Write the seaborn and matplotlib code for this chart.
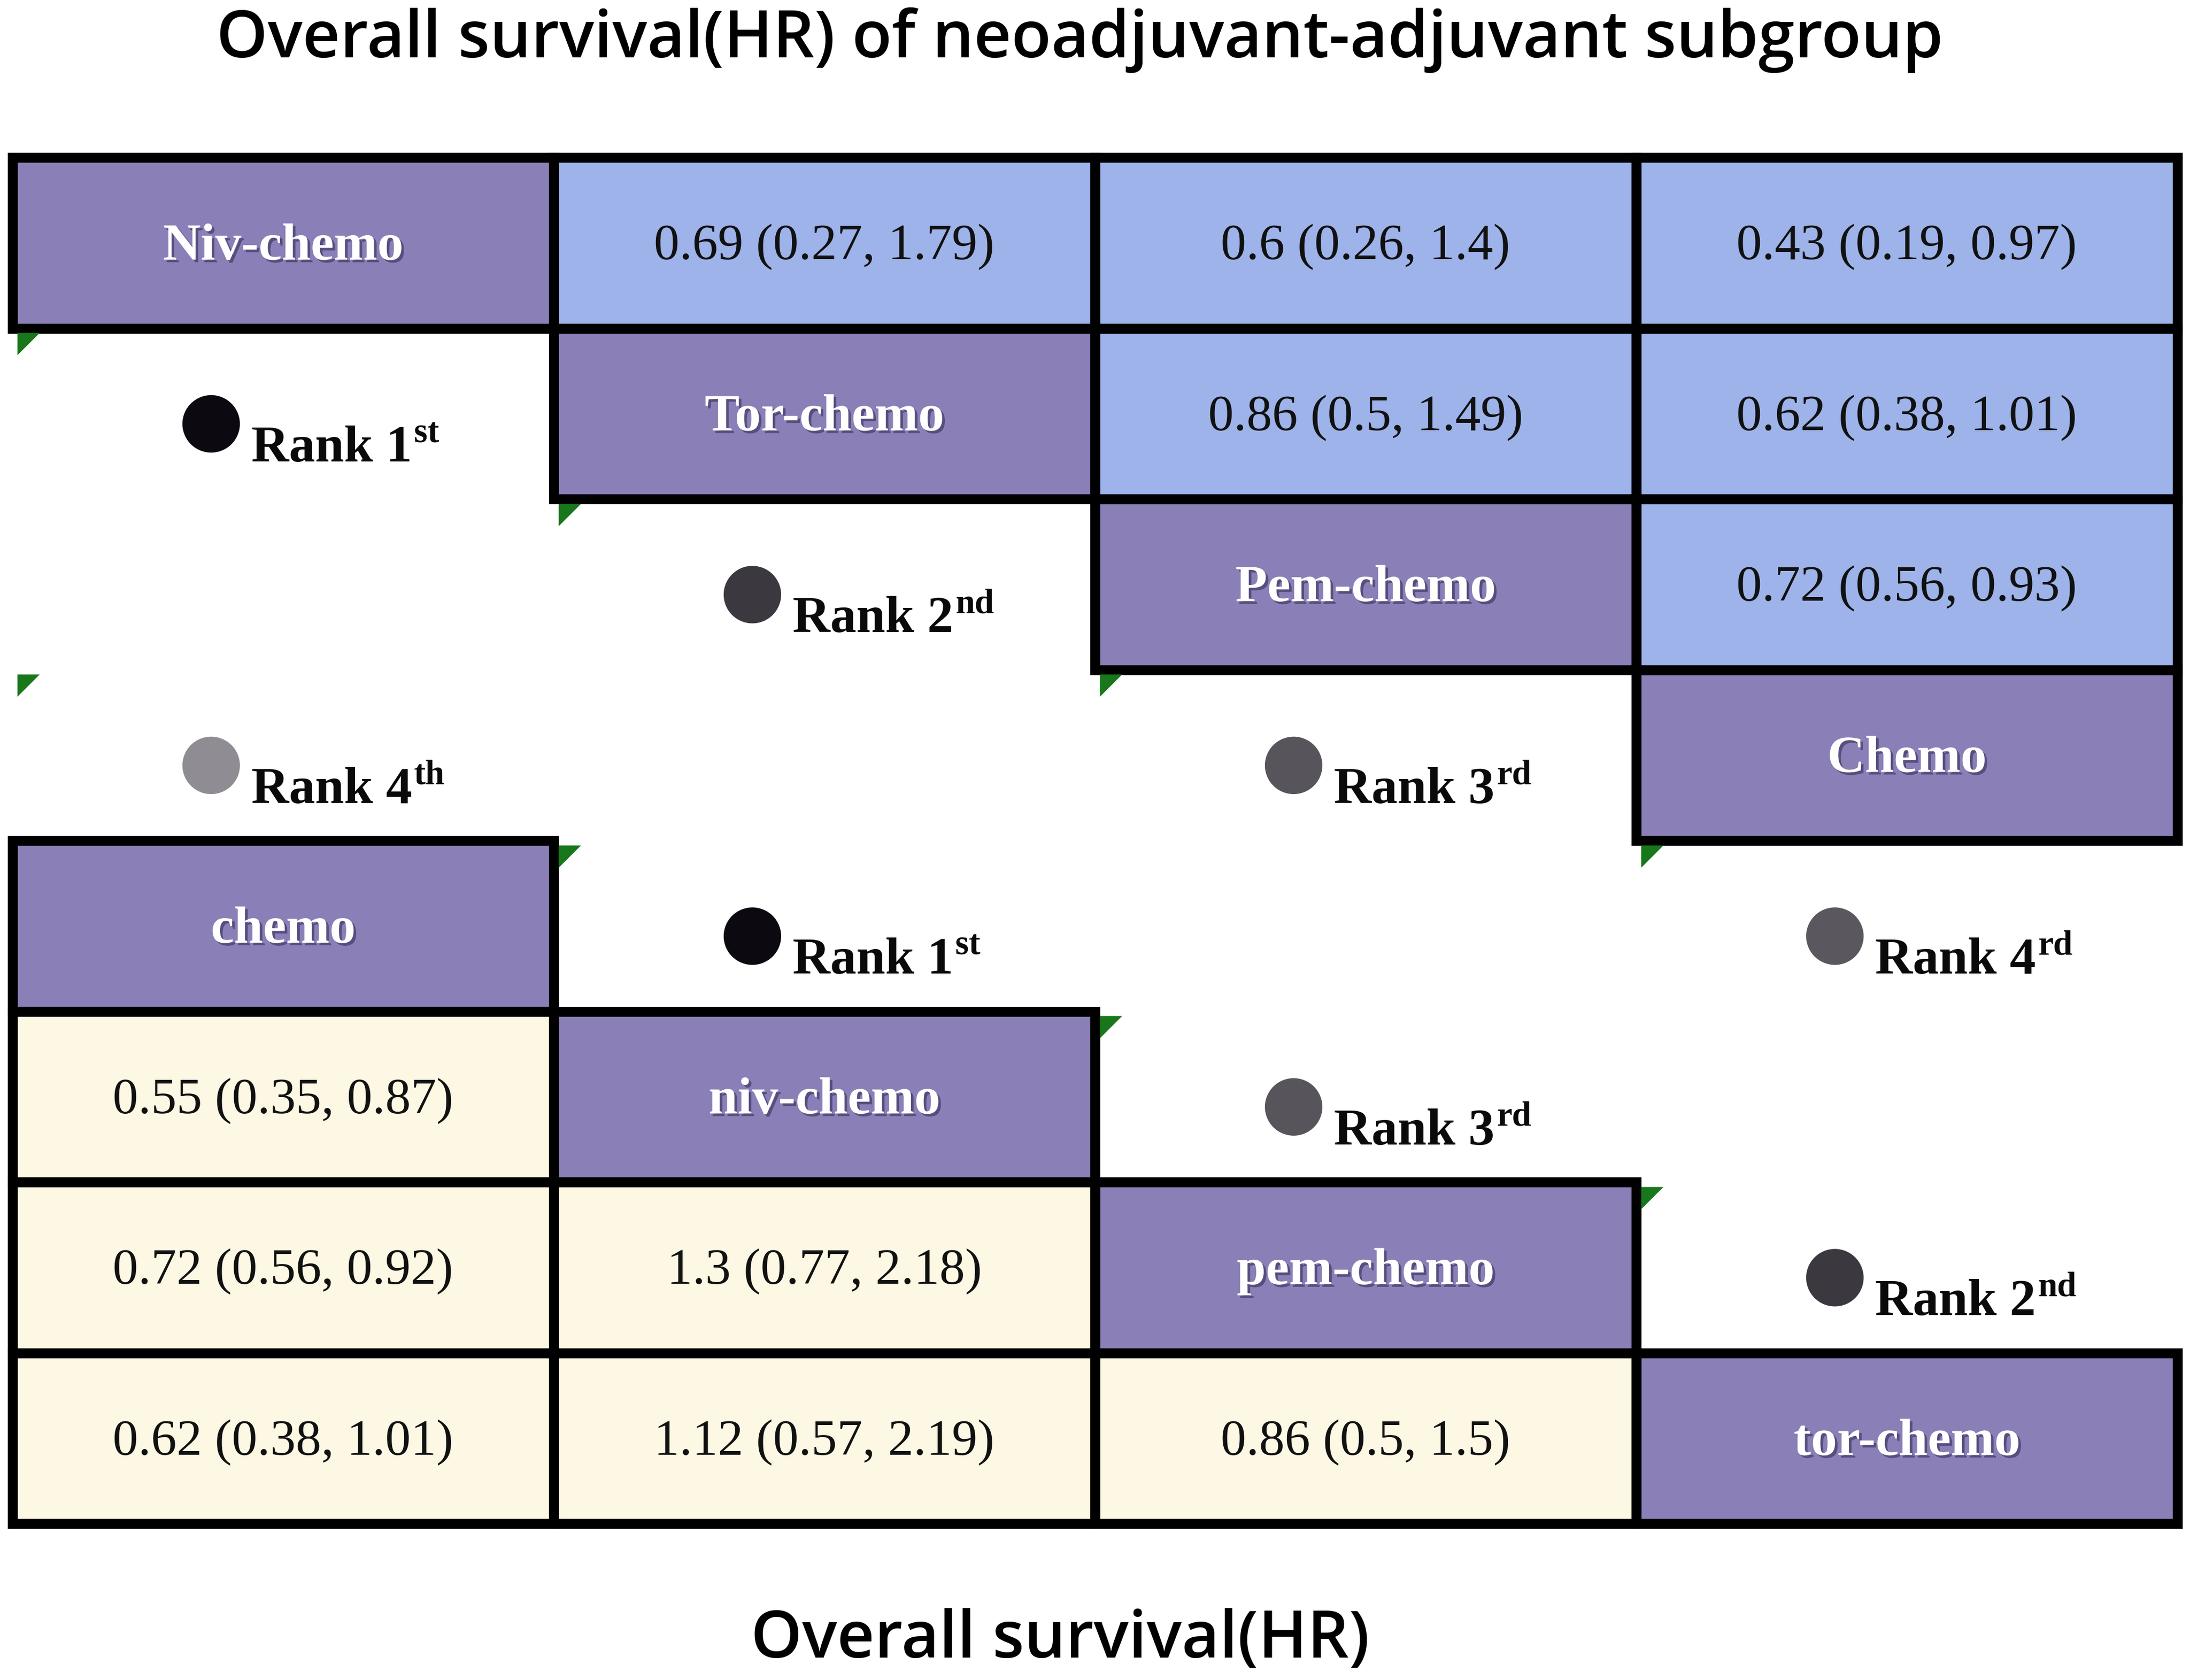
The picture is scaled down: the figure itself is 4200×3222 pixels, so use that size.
import numpy as np
import matplotlib
matplotlib.use("Agg")
import matplotlib.pyplot as plt
import matplotlib.patheffects as pe
from matplotlib.colors import ListedColormap
from matplotlib.patches import Rectangle
from matplotlib.path import Path
import seaborn as sns

# ---------------- data ----------------
title = "Overall survival(HR) of neoadjuvant-adjuvant subgroup"
xlabel = "Overall survival(HR)"

upper_treatments = ["Niv-chemo", "Tor-chemo", "Pem-chemo", "Chemo"]
lower_treatments = ["chemo", "niv-chemo", "pem-chemo", "tor-chemo"]

# upper triangle (row i, columns i+1..3)
upper_hr = [
    ["0.69 (0.27, 1.79)", "0.6 (0.26, 1.4)", "0.43 (0.19, 0.97)"],
    ["0.86 (0.5, 1.49)", "0.62 (0.38, 1.01)"],
    ["0.72 (0.56, 0.93)"],
]
# lower triangle (row i, columns 0..i-1)
lower_hr = [
    ["0.55 (0.35, 0.87)"],
    ["0.72 (0.56, 0.92)", "1.3 (0.77, 2.18)"],
    ["0.62 (0.38, 1.01)", "1.12 (0.57, 2.19)", "0.86 (0.5, 1.5)"],
]

rank_numbers = ["1", "2", "3", "4", "1", "4", "3", "2"]
rank_suffixes = ["st", "nd", "rd", "th", "st", "rd", "rd", "nd"]
# grid cell (row, col) in the 8x4 layout where each rank badge sits
rank_rows = [1, 2, 3, 3, 4, 4, 5, 6]
rank_cols = [0, 1, 2, 0, 1, 3, 2, 3]
rank_shades = ["#0c0a10", "#3b393f", "#57555b", "#8f8d93",
               "#0c0a10", "#5a585e", "#57555b", "#3b393f"]

# small green corner marks at grid corners (col, row)
mark_cols = [0, 1, 0, 2, 3, 1, 2, 3]
mark_rows = [1, 2, 3, 3, 4, 4, 5, 6]

# ---------------- style ----------------
purple = "#8a80b7"
blue = "#9db3e9"
beige = "#fdf8e3"

sns.set_theme(style="white")
plt.rcParams["font.family"] = ["Liberation Serif", "DejaVu Serif"]

fig = plt.figure(figsize=(14, 10.74), dpi=300)
ax = fig.add_axes([24 / 4200, 1 - 2922 / 3222, 4152 / 4200, 2620 / 3222])

n = len(upper_treatments)
grid = np.full((2 * n, n), np.nan)
for i in range(n):
    grid[i, i] = 0
    grid[n + i, i] = 0
    for k, _ in enumerate(upper_hr[i] if i < len(upper_hr) else []):
        grid[i, i + 1 + k] = 1
for i in range(1, n):
    for k, _ in enumerate(lower_hr[i - 1]):
        grid[n + i, k] = 2

cmap = ListedColormap([purple, blue, beige])
cmap.set_bad((1, 1, 1, 0))
sns.heatmap(grid, mask=np.isnan(grid), cmap=cmap, vmin=-0.5, vmax=2.5,
            cbar=False, linewidths=0, xticklabels=False, yticklabels=False, ax=ax)
ax.set_xlim(0, n)
ax.set_ylim(2 * n, 0)
ax.axis("off")

# black cell borders for the filled cells only
for r, c in zip(*np.where(~np.isnan(grid))):
    ax.add_patch(Rectangle((c, r), 1, 1, fill=False, edgecolor="black",
                           linewidth=4.6, clip_on=False, zorder=3))

shadow = [pe.withSimplePatchShadow(offset=(1.2, -1.2), shadow_rgbFace="#2e2550", alpha=0.55)]
dy = 0.025

# diagonal labels
for i in range(n):
    ax.text(i + 0.5, i + 0.5 + dy, upper_treatments[i], ha="center", va="center",
            color="white", fontsize=24, fontweight="bold", path_effects=shadow, zorder=4)
    ax.text(i + 0.5, n + i + 0.5 + dy, lower_treatments[i], ha="center", va="center",
            color="white", fontsize=24, fontweight="bold", path_effects=shadow, zorder=4)

# HR cells
for i, row in enumerate(upper_hr):
    for k, s in enumerate(row):
        ax.text(i + 1 + k + 0.5, i + 0.5 + dy, s, ha="center", va="center",
                color="#111111", fontsize=23.5, zorder=4)
for i, row in enumerate(lower_hr):
    for k, s in enumerate(row):
        ax.text(k + 0.5, n + i + 1 + 0.5 + dy, s, ha="center", va="center",
                color="#111111", fontsize=23.5, zorder=4)

# rank badges
cx = np.array(rank_cols) + 0.367
cy = np.array(rank_rows) + 0.56
sns.scatterplot(x=cx, y=cy, hue=list(range(len(cx))), palette=rank_shades,
                s=700, edgecolor="none", legend=False, ax=ax, clip_on=False, zorder=5)
for num, suf, r, c in zip(rank_numbers, rank_suffixes, rank_rows, rank_cols):
    t = ax.text(c + 0.441, r + 0.78, f"Rank {num}", ha="left", va="baseline",
                color="#0a0a0a", fontsize=24, fontweight="bold", zorder=5)
    ax.annotate(suf, xy=(1, 1), xycoords=t, xytext=(1.0, 3.5), textcoords="offset points",
                ha="left", va="top", fontsize=16, fontweight="bold", color="#0a0a0a", zorder=5)

# green corner marks
tri = Path([(0, 0), (1, 0), (0, -1), (0, 0)])
ax.scatter(np.array(mark_cols) + 0.0085, np.array(mark_rows) + 0.027, marker=tri, s=420,
           color="#18771a", linewidths=0, clip_on=False, zorder=6)

# titles
fig.text(0.493, 1 - 110 / 3222, title, ha="center", va="baseline",
         fontsize=30, fontweight="semibold", family=["Open Sans", "DejaVu Sans"], color="black")
fig.text(0.484, 1 - 3179 / 3222, xlabel, ha="center", va="baseline",
         fontsize=30, fontweight="semibold", family=["Open Sans", "DejaVu Sans"], color="black")

fig.savefig("out.png", dpi=300, facecolor="white")
